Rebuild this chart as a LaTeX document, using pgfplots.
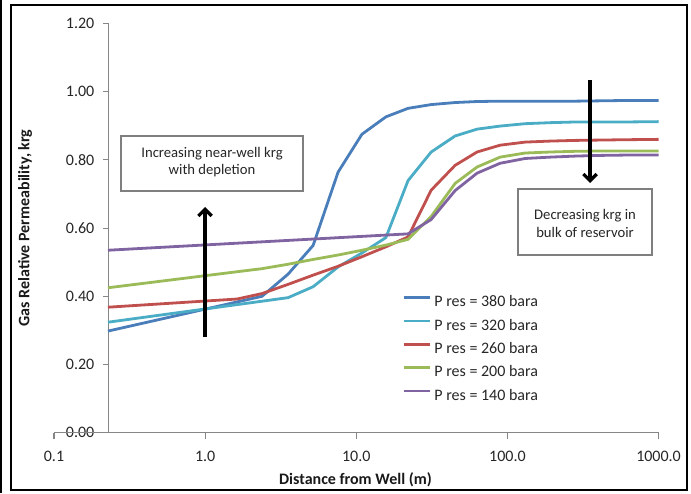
\documentclass[border=0pt]{standalone}
\usepackage{fontspec}
\setmainfont{Carlito}
\usepackage{pgfplots}
\pgfplotsset{compat=1.18}
\usetikzlibrary{arrows.meta}
\definecolor{cblue}{HTML}{4A7EBB}
\definecolor{ccyan}{HTML}{4BACC6}
\definecolor{cred}{HTML}{C0504D}
\definecolor{cgreen}{HTML}{9BBB59}
\definecolor{cpurple}{HTML}{8064A2}
\definecolor{axgray}{HTML}{868686}
\definecolor{boxgray}{HTML}{7F7F7F}
\begin{document}
\begin{tikzpicture}
\path[use as bounding box] (0pt,0pt) rectangle (518.25pt,369.75pt);
% y axis (own axis, crossing at the start of the data)
\begin{axis}[
  at={(81.4pt,45.2pt)}, anchor=south west,
  scale only axis, width=412.5pt, height=307pt,
  xmin=0, xmax=1, ymin=0, ymax=1.2,
  axis x line=none, axis y line*=left,
  axis line style={axgray, line width=0.8pt},
  ytick={0,0.2,0.4,0.6,0.8,1.0,1.2},
  yticklabels={0.00,0.20,0.40,0.60,0.80,1.00,1.20},
  tick align=outside, major tick length=4pt,
  tick style={axgray, line width=0.8pt},
  yticklabel style={font=\fontsize{12}{14}\selectfont, text=black!85, inner sep=0pt, xshift=-6.5pt},
]
\end{axis}
% data axis
\begin{axis}[
  at={(40.5pt,45.2pt)}, anchor=south west,
  scale only axis, width=453.4pt, height=307pt,
  xmode=log, xmin=0.1, xmax=1000, ymin=0, ymax=1.2,
  axis x line*=bottom, axis y line=none,
  ytick=\empty,
  axis line style={axgray, line width=0.8pt},
  xtick={0.1,1,10,100,1000},
  xticklabels={0.1,1.0,10.0,100.0,1000.0},
  xminorticks=false,
  tick align=outside, major tick length=5pt,
  tick style={axgray, line width=0.8pt},
  xticklabel style={font=\fontsize{12}{14}\selectfont, text=black!85, inner sep=0pt, anchor=north, text height=7.5pt, text depth=0pt, yshift=-9pt},
  legend style={at={(0.5757,0.336)}, anchor=north west, draw=none, fill=none,
    inner sep=0pt, row sep=6.5pt,
    font=\fontsize{12}{14}\selectfont,
    nodes={inner sep=0pt, text height=8.5pt, text depth=2.5pt, text=black!85},
    /tikz/every odd column/.append style={column sep=2.5pt}},
  legend cell align=left,
  legend image code/.code={\draw[#1] (0pt,3.8pt) -- (19.5pt,3.8pt);},
  every axis plot/.append style={line width=2.1pt},
]
\addplot[cblue] coordinates {
(0.2275,0.298) (2.38,0.400) (3.54,0.465) (5.18,0.549) (7.58,0.764) (10.9,0.875)
(15.7,0.926) (22.0,0.951) (31.3,0.962) (45.1,0.968) (63.0,0.971) (89.5,0.972)
(131,0.972) (192,0.972) (281,0.972) (411,0.973) (601,0.974) (1000,0.974)};
\addlegendentry{P res = 380 bara}
\addplot[ccyan] coordinates {
(0.2275,0.324) (3.54,0.396) (5.18,0.428) (7.58,0.486) (10.9,0.527) (15.7,0.572)
(22.0,0.739) (31.3,0.823) (45.1,0.870) (63.0,0.890) (89.5,0.899) (131,0.906)
(192,0.909) (281,0.911) (411,0.911) (601,0.911) (1000,0.912)};
\addlegendentry{P res = 320 bara}
\addplot[cred] coordinates {
(0.2275,0.368) (1.626,0.392) (2.38,0.408) (3.54,0.435) (5.18,0.462) (7.58,0.488)
(10.9,0.516) (15.7,0.545) (22.0,0.574) (31.3,0.711) (45.1,0.784) (63.0,0.823)
(89.5,0.843) (131,0.852) (192,0.855) (281,0.857) (411,0.858) (601,0.859) (1000,0.860)};
\addlegendentry{P res = 260 bara}
\addplot[cgreen] coordinates {
(0.2275,0.425) (1.626,0.472) (2.38,0.481) (3.54,0.494) (5.18,0.508) (7.58,0.521)
(10.9,0.535) (15.7,0.550) (22.0,0.567) (31.3,0.634) (45.1,0.731) (63.0,0.779)
(89.5,0.808) (131,0.820) (192,0.823) (281,0.825) (411,0.826) (601,0.826) (1000,0.826)};
\addlegendentry{P res = 200 bara}
\addplot[cpurple] coordinates {
(0.2275,0.535) (22.0,0.583) (31.3,0.625) (45.1,0.710) (63.0,0.761) (89.5,0.790)
(131,0.804) (192,0.808) (281,0.811) (411,0.813) (601,0.814) (1000,0.814)};
\addlegendentry{P res = 140 bara}
\end{axis}
% annotations
\draw[boxgray, line width=0.8pt] (90.75pt,226.5pt) rectangle (227.25pt,267.75pt);
\node[align=center, font=\fontsize{11}{12.75}\selectfont, text=black!85] at (159pt,247.9pt) {Increasing near-well krg\\with depletion};
\draw[boxgray, line width=0.8pt] (388.5pt,178.5pt) rectangle (489pt,228pt);
\node[align=center, font=\fontsize{11}{13.5}\selectfont, text=black!85] at (438.75pt,202.5pt) {Decreasing krg in\\bulk of reservoir};
\draw[line width=2.4pt, -{Straight Barb[length=5pt,width=10pt]}] (153.75pt,117pt) -- (153.75pt,214.5pt);
\draw[line width=2.4pt, -{Straight Barb[length=5pt,width=10pt]}] (442.5pt,309.75pt) -- (442.5pt,232.5pt);
% axis titles
\node[font=\bfseries\fontsize{12}{14}\selectfont, text=black!90] at (266.6pt,9.75pt) {Distance from Well (m)};
\node[rotate=90, font=\bfseries\fontsize{12}{14}\selectfont, text=black!90] at (18.75pt,198.75pt) {Gas Relative Permeability, krg};
% frame
\draw[line width=1.1pt] (8.25pt,2.25pt) rectangle (515.25pt,366pt);
\draw[line width=1.2pt] (0.9pt,0pt) -- (0.9pt,369.75pt);
\end{tikzpicture}
\end{document}
